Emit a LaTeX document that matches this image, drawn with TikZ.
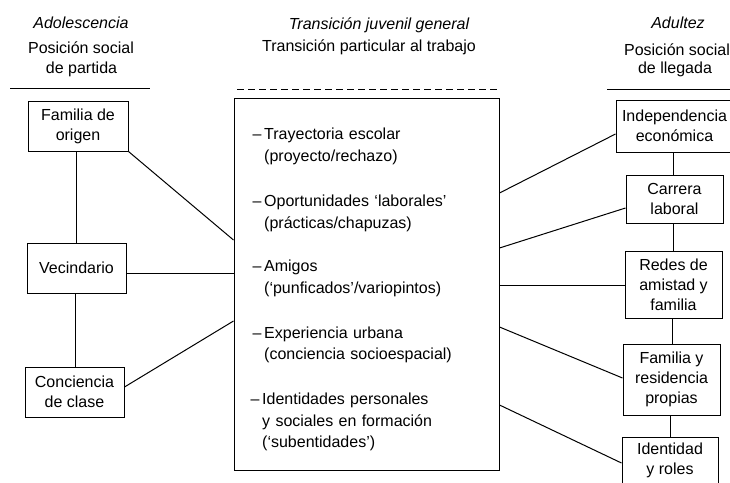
\documentclass[tikz,border=0pt]{standalone}
\usepackage{fontspec}
\setmainfont{Liberation Sans}
\begin{document}
\begin{tikzpicture}[x=1pt,y=-1pt,
  box/.style={draw,line width=1pt,inner sep=0pt,align=center,font=\fontsize{16}{20}\selectfont},
  item/.style={anchor=base west,text width=235pt,align=left,inner sep=0pt,font=\fontsize{16}{21.5}\selectfont},
  head/.style={anchor=base,inner sep=0pt,font=\fontsize{16}{19}\selectfont},
  headit/.style={head,font=\fontsize{16}{19}\selectfont\itshape},
  link/.style={line width=1pt}]
\useasboundingbox (0,0) rectangle (730,482);
\clip (0,0) rectangle (730,482);
% headings
\node[headit] (h1) at (81,28.5) {Adolescencia};
\node[head] (h2) at (81,53) {Posición social};
\node[head] (h3) at (81.5,73) {de partida};
\node[headit] (h4) at (379,29.5) {Transición juvenil general};
\node[head] (h5) at (369,51.5) {Transición particular al trabajo};
\node[headit] (h6) at (678,28.5) {Adultez};
\node[head] (h7) at (677,55) {Posición social};
\node[head] (h8) at (675,73.5) {de llegada};
\draw[link] (10,88) -- (150,88);
\draw[link,dash pattern=on 7pt off 4pt] (237,89) -- (500,89);
\draw[link] (607,89) -- (732,89);
% left boxes
\node[box,minimum width=100pt,minimum height=50pt] (fam) at (78,126) {Familia de\\origen};
\node[box,minimum width=99pt,minimum height=50pt] (vec) at (76.5,268) {Vecindario};
\node[box,minimum width=99pt,minimum height=50pt] (con) at (74.5,392) {Conciencia\\de clase};
% centre box
\node[draw,line width=1pt,minimum width=265pt,minimum height=372pt,inner sep=0pt] (mid) at (366.5,284) {};
\node[item] (i1) at (264,139.5) {\llap{–\,}Trayectoria escolar\\(proyecto/rechazo)};
\node[item] (i2) at (264,206.5) {\llap{–\,}Oportunidades ‘laborales’\\(prácticas/chapuzas)};
\node[item] (i3) at (264,271.5) {\llap{–\,}Amigos\\(‘punficados’/variopintos)};
\node[item] (i4) at (264,338) {\llap{–\,}Experiencia urbana\\(conciencia socioespacial)};
\node[item] (i5) at (262,404.5) {\llap{–\,}Identidades personales\\y sociales en formación\\(‘subentidades’)};
% right boxes
\node[box,minimum width=122pt,minimum height=52pt] (ind) at (677,126) {\hspace*{-5pt}Independencia\\\hspace*{-5pt}económica};
\node[box,minimum width=97pt,minimum height=48pt] (car) at (674.5,199) {Carrera\\laboral};
\node[box,minimum width=97pt,minimum height=67pt] (red) at (673.5,284.5) {Redes de\\amistad y\\familia};
\node[box,minimum width=97pt,minimum height=71pt] (fre) at (671.5,379.5) {Familia y\\residencia\\propias};
\node[box,minimum width=96pt,anchor=north,inner ysep=5pt] (idn) at (670,437) {Identidad\\y roles\rule[-18pt]{0pt}{18pt}};
% left connectors
\draw[link] (fam.south -| 76,0) -- (vec.north -| 76,0);
\draw[link] (vec.south -| 75,0) -- (con.north -| 75,0);
\draw[link] (fam.south east) -- (mid.west |- 0,240);
\draw[link] (vec.east |- 0,273) -- (mid.west |- 0,273);
\draw[link] (con.east |- 0,387) -- (mid.west |- 0,321);
% right connectors
\draw[link] (mid.east |- 0,193) -- (ind.west |- 0,134);
\draw[link] (mid.east |- 0,248) -- (car.west |- 0,208);
\draw[link] (mid.east |- 0,285) -- (red.west |- 0,285);
\draw[link] (mid.east |- 0,327) -- (fre.west |- 0,378);
\draw[link] (mid.east |- 0,405) -- (idn.west |- 0,463);
\draw[link] (ind.south -| 673,0) -- (car.north -| 673,0);
\draw[link] (car.south -| 673,0) -- (red.north -| 673,0);
\draw[link] (red.south -| 672,0) -- (fre.north -| 672,0);
\draw[link] (fre.south -| 670,0) -- (idn.north -| 670,0);
\end{tikzpicture}
\end{document}
